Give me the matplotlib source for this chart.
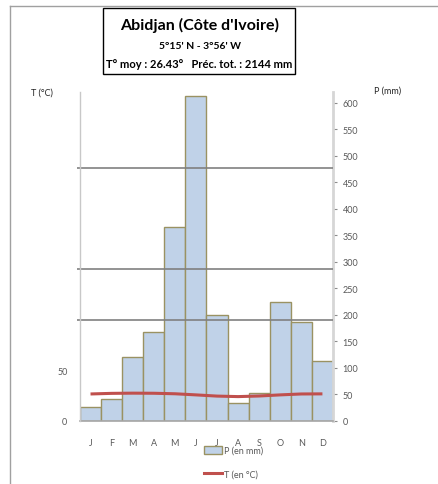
import matplotlib
matplotlib.use("Agg")
import matplotlib.pyplot as plt
from matplotlib.patches import Rectangle, Patch
from matplotlib.lines import Line2D
import numpy as np

plt.rcParams['font.family'] = ['Lato', 'DejaVu Sans']

# data
months = ['J', 'F', 'M', 'A', 'M', 'J', 'J', 'A', 'S', 'O', 'N', 'D']
precip = [26, 41, 121, 168, 366, 612, 199, 34, 53, 225, 186, 113]
temp = [26.7, 27.3, 27.5, 27.4, 26.9, 25.8, 24.6, 24.1, 24.7, 25.8, 26.7, 26.8]
grid_t = [100, 150, 250]
p_ticks = list(range(0, 601, 50))
t_ticks = [0, 50]

grey_txt = '#595959'

fig = plt.figure(figsize=(4.38, 4.85), dpi=100)
ax = fig.add_axes([0.1826, 0.1299, 0.5776, 0.6784])
axt = ax.twinx()
x = np.arange(len(months))

# precipitation bars (right axis scale)
ax.bar(x, precip, width=1.0, color='#c0d2e8', edgecolor='#9a9262', linewidth=1.0)
ax.set_xlim(-0.5, 11.5)
ax.set_ylim(0, 620)
ax.yaxis.set_ticks_position('right')
ax.yaxis.set_label_position('right')
ax.set_yticks(p_ticks)
ax.tick_params(axis='y', right=True, left=False, labelright=True, labelleft=False,
               direction='out', length=3, color='#8c8c8c', labelsize=6.5,
               labelcolor=grey_txt, pad=4)
ax.set_xticks(x)
ax.set_xticklabels(months)
ax.tick_params(axis='x', length=0, labelsize=6.5, labelcolor=grey_txt, pad=12)
for s in ['top', 'left']:
    ax.spines[s].set_visible(False)
ax.spines['right'].set_color('#d6d6d6')
ax.spines['right'].set_linewidth(2)
ax.spines['bottom'].set_color('#a6a6a6')
ax.spines['bottom'].set_linewidth(1.2)

# temperature axis (left)
axt.set_ylim(0, 325)
axt.yaxis.set_ticks_position('left')
axt.set_yticks(t_ticks)
axt.tick_params(axis='y', left=True, right=False, labelleft=True, labelright=False,
                length=0, labelsize=6.5, labelcolor=grey_txt, pad=9)
for s in ['top', 'right', 'bottom']:
    axt.spines[s].set_visible(False)
axt.spines['left'].set_visible(True)
axt.spines['left'].set_color('#c8c8c8')
axt.spines['left'].set_linewidth(1)
axt.hlines(grid_t, -0.012, 1.0, transform=axt.get_yaxis_transform(),
           color='#808080', linewidth=1.2, clip_on=False)
axt.plot(x, temp, color='#c0504d', linewidth=2.2, solid_capstyle='butt')

fig.text(0.096, 0.808, 'T (°C)', fontsize=6.5, color='#262626', ha='center', va='center')
fig.text(0.885, 0.812, 'P (mm)', fontsize=6.5, color='#262626', ha='center', va='center')

# title box
fig.patches.append(Rectangle((0.235, 0.8454), 0.4384, 0.1361, transform=fig.transFigure,
                             facecolor='white', edgecolor='black', linewidth=1))
fig.text(0.4555, 0.9485, "Abidjan (Côte d'Ivoire)", fontsize=11.5, fontweight='bold',
         ha='center', va='center')
fig.text(0.4555, 0.905, "5°15' N - 3°56' W", fontsize=7.5, fontweight='bold',
         ha='center', va='center')
fig.text(0.4555, 0.866, "T° moy : 26.43°   Préc. tot. : 2144 mm", fontsize=8,
         fontweight='bold', ha='center', va='center')

# frame lines
fig.add_artist(Line2D([10/438, 437/438], [1-7/485, 1-7/485], color='#a0a0a0', linewidth=1))
fig.add_artist(Line2D([10/438, 10/438], [1-7/485, 0], color='#a0a0a0', linewidth=1))

# legend
handles = [Patch(facecolor='#c0d2e8', edgecolor='#9a9262', linewidth=1),
           Line2D([0], [0], color='#c0504d', linewidth=2.2)]
fig.legend(handles, ['P (en mm)', 'T (en °C)'], loc='upper left',
           bbox_to_anchor=(0.466, 1-447/485), frameon=False, fontsize=6.5,
           labelcolor=grey_txt, handlelength=2.0, handleheight=0.9,
           handletextpad=0.2, labelspacing=1.6, borderpad=0, borderaxespad=0)

fig.savefig('out.png', dpi=100)
